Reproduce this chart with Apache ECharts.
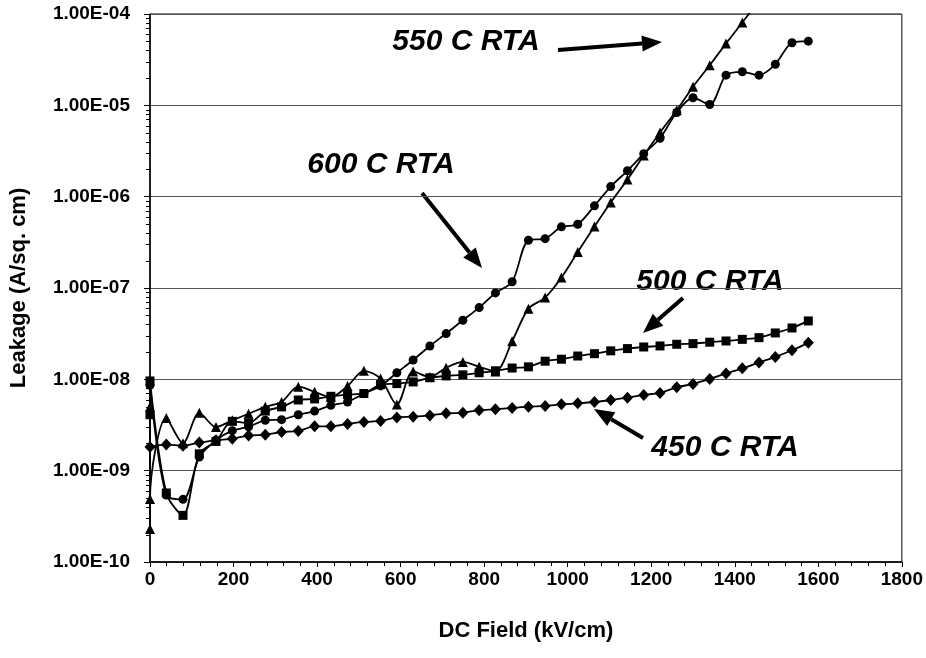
<!DOCTYPE html>
<html>
<head>
<meta charset="utf-8">
<script src="https://cdn.jsdelivr.net/npm/echarts@6/dist/echarts.min.js"></script>
<style>
  html, body { margin: 0; padding: 0; background: #fff; }
  #box { width: 926px; height: 658px; }
</style>
</head>
<body>
<div id="box"></div>
<script>
// DC field (kV/cm) for each measurement step
var field = [0, 39, 79, 118, 158, 197, 236, 276, 315, 355, 394, 433, 473, 512, 552, 591, 630, 670, 709, 749,
  788, 827, 867, 906, 946, 985, 1024, 1064, 1103, 1143, 1182, 1221, 1261, 1300, 1340, 1379, 1418, 1458, 1497, 1537, 1576]

// leakage (A/sq. cm) per anneal
var rta450 = [1.82e-9, 1.93e-9, 1.87e-9, 2.03e-9, 2.15e-9, 2.24e-9, 2.42e-9, 2.48e-9, 2.65e-9, 2.72e-9,
  3.06e-9, 3.06e-9, 3.25e-9, 3.42e-9, 3.5e-9, 3.83e-9, 3.9e-9, 4.03e-9, 4.24e-9, 4.32e-9,
  4.6e-9, 4.7e-9, 4.86e-9, 5.02e-9, 5.12e-9, 5.32e-9, 5.46e-9, 5.65e-9, 5.94e-9, 6.3e-9,
  6.75e-9, 7.1e-9, 8.17e-9, 8.91e-9, 1.01e-8, 1.16e-8, 1.32e-8, 1.53e-8, 1.76e-8, 2.08e-8, 2.51e-8]
var start500 = [4.1e-9]
var rta500 = [9.6e-9, 5.7e-10, 3.24e-10, 1.53e-9, 2.09e-9, 3.47e-9, 3.31e-9, 4.49e-9, 4.99e-9, 5.94e-9,
  6.1e-9, 6.52e-9, 6.8e-9, 7.0e-9, 8.75e-9, 8.98e-9, 9.37e-9, 1.04e-8, 1.09e-8, 1.12e-8,
  1.18e-8, 1.24e-8, 1.33e-8, 1.37e-8, 1.58e-8, 1.66e-8, 1.8e-8, 1.91e-8, 2.05e-8, 2.17e-8,
  2.26e-8, 2.32e-8, 2.42e-8, 2.46e-8, 2.55e-8, 2.63e-8, 2.74e-8, 2.86e-8, 3.22e-8, 3.65e-8, 4.36e-8]
var start550 = [5.0e-9, 2.3e-10]
var rta550 = [4.9e-10, 3.77e-9, 2.0e-9, 4.3e-9, 3.0e-9, 3.56e-9, 4.2e-9, 5.0e-9, 5.65e-9, 8.3e-9,
  7.3e-9, 6.4e-9, 8.45e-9, 1.24e-8, 1.02e-8, 5.3e-9, 1.22e-8, 1.06e-8, 1.34e-8, 1.55e-8,
  1.37e-8, 1.22e-8, 2.61e-8, 5.94e-8, 7.85e-8, 1.3e-7, 2.48e-7, 4.71e-7, 8.62e-7, 1.54e-6,
  2.82e-6, 5.04e-6, 8.83e-6, 1.6e-5, 2.75e-5, 4.75e-5, 8.07e-5, 1.4e-4]
var rta600 = [8.6e-9, 5.4e-10, 4.85e-10, 1.41e-9, 2.15e-9, 2.74e-9, 3.03e-9, 3.56e-9, 3.62e-9, 4.1e-9,
  4.49e-9, 5.19e-9, 5.65e-9, 6.97e-9, 8.47e-9, 1.18e-8, 1.63e-8, 2.32e-8, 3.17e-8, 4.43e-8,
  6.1e-8, 8.83e-8, 1.17e-7, 3.33e-7, 3.47e-7, 4.67e-7, 4.99e-7, 7.93e-7, 1.29e-6, 1.92e-6,
  2.95e-6, 4.36e-6, 8.34e-6, 1.21e-5, 1.02e-5, 2.14e-5, 2.33e-5, 2.14e-5, 2.82e-5, 4.84e-5, 5.04e-5]

var xTicks = [0, 1800, 200]   // min, max, step
var yRange = [1e-10, 1e-4]

var font = '"Liberation Sans", Arial, sans-serif'

function pairs(start, vals) {
    var out = start.map(function (v) { return [0, v] })
    vals.forEach(function (v, i) { out.push([field[i], v]) })
    return out
}

function sci(v) {
    var parts = v.toExponential(2).split('e')
    var e = parseInt(parts[1], 10)
    var es = (e < 0 ? '-' : '+') + (Math.abs(e) < 10 ? '0' : '') + Math.abs(e)
    return parts[0] + 'E' + es
}

function mkSeries(name, data, symbol, size) {
    return {
        name: name,
        type: 'line',
        data: data,
        symbol: symbol,
        symbolSize: size,
        smooth: 0.3,
        clip: true,
        itemStyle: { color: '#000' },
        lineStyle: { color: '#000', width: 1.8 },
        emphasis: { disabled: true }
    }
}

// arrow annotation (pixel space)
function arrow(x1, y1, x2, y2) {
    var dx = x2 - x1, dy = y2 - y1
    var len = Math.sqrt(dx * dx + dy * dy)
    var ux = dx / len, uy = dy / len
    var hl = 20, hw = 8
    var bx = x2 - ux * hl, by = y2 - uy * hl
    return {
        type: 'group',
        children: [
            { type: 'line', shape: { x1: x1, y1: y1, x2: bx, y2: by }, style: { stroke: '#000', lineWidth: 4 } },
            { type: 'polygon', shape: { points: [[x2, y2], [bx - uy * hw, by + ux * hw], [bx + uy * hw, by - ux * hw]] }, style: { fill: '#000' } }
        ]
    }
}

function label(text, x, y) {
    return {
        type: 'text', x: x, y: y,
        style: {
            text: text, fill: '#000', align: 'center', verticalAlign: 'middle',
            font: 'italic bold 30px ' + font
        }
    }
}

var chart = echarts.init(document.getElementById('box'))

var annotations = [
    label('550 C RTA', 466, 42),
    arrow(558, 50, 662, 42),
    label('600 C RTA', 381, 165),
    arrow(422, 193, 482, 268),
    label('500 C RTA', 710, 282),
    arrow(683, 298, 643, 333),
    label('450 C RTA', 725, 448),
    arrow(643, 438, 594, 409)
]

chart.setOption({
    animation: false,
    backgroundColor: '#fff',
    grid: {
        left: 150, right: 24, top: 14, bottom: 96,
        show: true, borderColor: '#000', borderWidth: 1
    },
    xAxis: {
        type: 'value',
        min: xTicks[0], max: xTicks[1], interval: xTicks[2],
        name: 'DC Field (kV/cm)',
        nameLocation: 'middle',
        nameGap: 58,
        nameTextStyle: { fontFamily: font, fontWeight: 'bold', fontSize: 22, color: '#000' },
        axisLine: { lineStyle: { color: '#000', width: 1.5 } },
        axisTick: { show: true, length: 5, lineStyle: { color: '#000' } },
        minorTick: { show: true, splitNumber: 5, length: 4, lineStyle: { color: '#000' } },
        axisLabel: {
            fontFamily: font, fontWeight: 'bold', fontSize: 19, color: '#000', margin: 8,
            formatter: function (v) { return String(v) }
        },
        splitLine: { show: false }
    },
    yAxis: {
        type: 'log',
        logBase: 10,
        min: yRange[0], max: yRange[1],
        name: 'Leakage (A/sq. cm)',
        nameLocation: 'middle',
        nameGap: 120,
        nameTextStyle: { fontFamily: font, fontWeight: 'bold', fontSize: 22, color: '#000' },
        axisLine: { show: true, lineStyle: { color: '#000', width: 1.5 } },
        axisTick: { show: true, length: 6, lineStyle: { color: '#000' } },
        axisLabel: {
            fontFamily: font, fontWeight: 'bold', fontSize: 19, color: '#000', margin: 20,
            formatter: sci
        },
        splitLine: { show: true, lineStyle: { color: '#555', width: 1 } }
    },
    series: [
        mkSeries('450 C RTA', pairs([], rta450), 'diamond', [11, 12]),
        mkSeries('500 C RTA', pairs(start500, rta500), 'rect', 9),
        mkSeries('550 C RTA', pairs(start550, rta550), 'triangle', 10),
        mkSeries('600 C RTA', pairs([], rta600), 'circle', 9)
    ],
    graphic: annotations
})

// log-spaced minor ticks (2..9 per decade) on the left of the y axis, placed via the axis scale
var minorTicks = []
for (var e = -10; e < -4; e++) {
    for (var m = 2; m <= 9; m++) {
        var p = chart.convertToPixel({ gridIndex: 0 }, [0, m * Math.pow(10, e)])
        minorTicks.push({
            type: 'line',
            shape: { x1: p[0] - 4, y1: Math.round(p[1]) + 0.5, x2: p[0], y2: Math.round(p[1]) + 0.5 },
            style: { stroke: '#000', lineWidth: 1 }
        })
    }
}
chart.setOption({ graphic: annotations.concat(minorTicks) })
</script>
</body>
</html>
